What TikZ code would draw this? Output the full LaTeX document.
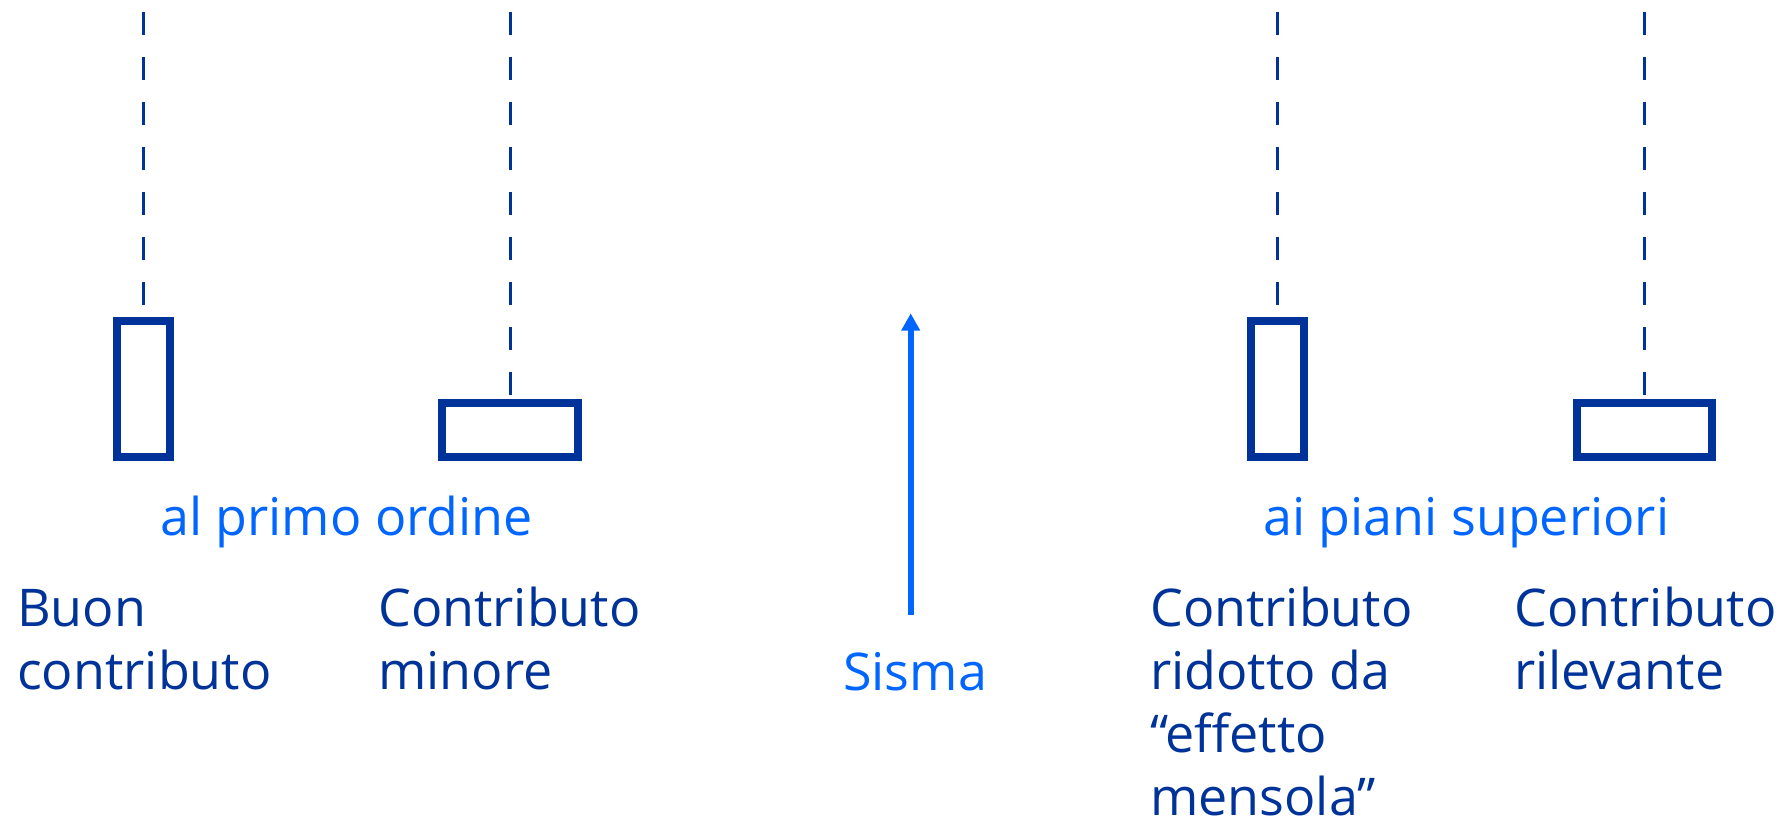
\documentclass[tikz,border=0pt]{standalone}
\usepackage{fontspec}
\setmainfont{Open Sans}
\usetikzlibrary{arrows.meta}
\definecolor{dkblue}{HTML}{003399}
\definecolor{ltblue}{HTML}{0066FF}
\tikzset{
  box/.style={draw=dkblue, line width=8pt, inner sep=0pt},
  plumb/.style={draw=dkblue, line width=3pt, dash pattern=on 23pt off 22pt},
  quake/.style={draw=ltblue, line width=6pt, -{Triangle[length=17.4pt,width=18pt]}},
  lbl/.style={text=ltblue, inner sep=0pt, anchor=base west, font=\fontsize{52}{64}\selectfont},
  desc/.style={text=dkblue, inner sep=0pt, anchor=base west, align=left, font=\fontsize{52}{63}\selectfont}
}
\begin{document}
\begin{tikzpicture}[x=1pt,y=-1pt]
\useasboundingbox (0,0) rectangle (1792,821);
% boxes
\node[box, minimum width=53.3pt, minimum height=136.6pt] (r1) at (143.3,389) {};
\node[box, minimum width=136pt, minimum height=54.3pt] (r2) at (510,430.2) {};
\node[box, minimum width=53pt, minimum height=136.6pt] (r3) at (1277.8,389) {};
\node[box, minimum width=135.6pt, minimum height=54.3pt] (r4) at (1644.5,430.2) {};
% plumb lines
\coordinate (t1) at (143.3,12);
\coordinate (t2) at (510,12);
\coordinate (t3) at (1277.8,12);
\coordinate (t4) at (1644.5,12);
\draw[plumb] (t1) -- (r1.north);
\draw[plumb] (t2) -- (r2.north);
\draw[plumb] (t3) -- (r3.north);
\draw[plumb] (t4) -- (r4.north);
% arrow
\coordinate (sb) at (910.7,615);
\coordinate (st) at (910.7,313.3);
\draw[quake] (sb) -- (st);
% labels
\node[lbl] (l1) at (160,535) {al primo ordine};
\node[lbl] (l2) at (1263,535) {ai piani superiori};
\node[lbl] (l3) at (843,690) {Sisma};
% descriptions (base anchor = baseline of last line)
\node[desc] (d1) at (17,689) {Buon\\contributo};
\node[desc] (d2) at (378,689) {Contributo\\minore};
\node[desc] (d3) at (1150,815) {Contributo\\ridotto da\\“effetto\\mensola”};
\node[desc] (d4) at (1514,689) {Contributo\\rilevante};
\end{tikzpicture}
\end{document}
